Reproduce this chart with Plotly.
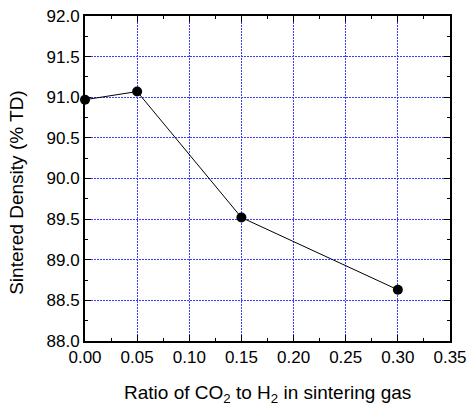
import plotly.graph_objects as go

ratio = [0.00, 0.05, 0.15, 0.30]
density = [90.97, 91.07, 89.52, 88.63]

x_ticks = [0.00, 0.05, 0.10, 0.15, 0.20, 0.25, 0.30, 0.35]
x_labels = ["0.00", "0.05", "0.10", "0.15", "0.20", "0.25", "0.30", "0.35"]
y_ticks = [88.0, 88.5, 89.0, 89.5, 90.0, 90.5, 91.0, 91.5, 92.0]
y_labels = ["88.0", "88.5", "89.0", "89.5", "90.0", "90.5", "91.0", "91.5", "92.0"]

x_title = "Ratio of CO<sub>2</sub> to H<sub>2</sub> in sintering gas"
y_title = "Sintered Density (% TD)"

fig = go.Figure()
fig.add_trace(go.Scatter(
    x=ratio, y=density, mode="lines+markers",
    line=dict(color="black", width=1),
    marker=dict(color="black", size=10),
    cliponaxis=False, showlegend=False,
))

tick_font = dict(family="Liberation Sans, Arial, sans-serif", size=17, color="black")
title_font = dict(family="Liberation Sans, Arial, sans-serif", size=19, color="black")
grid_col = "rgb(60,60,255)"

fig.update_layout(
    width=472, height=408,
    margin=dict(l=85, r=22, t=16, b=67),
    paper_bgcolor="white", plot_bgcolor="white",
    font=tick_font,
    xaxis=dict(
        range=[0, 0.35], tickvals=x_ticks, ticktext=x_labels, tickfont=tick_font,
        showline=True, linecolor="black", linewidth=2, mirror="allticks",
        ticks="inside", ticklen=6, tickwidth=1, tickcolor="black",
        minor=dict(dtick=0.025, ticks="inside", ticklen=3, tickcolor="black", showgrid=False),
        showgrid=True, gridcolor=grid_col, gridwidth=1, griddash="2px,1px",
        zeroline=False, automargin=False, ticklabeloverflow="allow",
    ),
    yaxis=dict(
        range=[88, 92], tickvals=y_ticks, ticktext=y_labels, tickfont=tick_font,
        showline=True, linecolor="black", linewidth=2, mirror="allticks",
        ticks="inside", ticklen=6, tickwidth=1, tickcolor="black",
        minor=dict(dtick=0.25, ticks="inside", ticklen=3, tickcolor="black", showgrid=False),
        showgrid=True, gridcolor=grid_col, gridwidth=1, griddash="2px,1px",
        zeroline=False, automargin=False, ticklabeloverflow="allow",
    ),
    annotations=[
        dict(text=x_title, xref="paper", yref="paper", x=0.5, y=-0.12,
             xanchor="center", yanchor="top", showarrow=False, font=title_font),
        dict(text=y_title, xref="paper", yref="paper", x=-0.19, y=0.458,
             xanchor="center", yanchor="middle", textangle=-90, showarrow=False, font=title_font),
    ],
)

fig.write_html("out.html", config={"displayModeBar": False},
               post_script="document.body.style.margin='0';")
